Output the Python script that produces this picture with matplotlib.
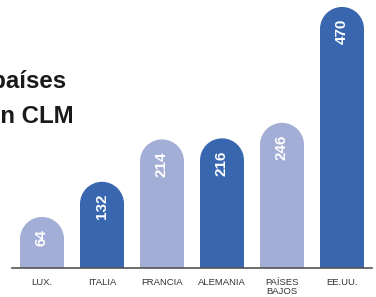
import matplotlib
matplotlib.use("Agg")
import matplotlib.pyplot as plt
from matplotlib.patches import Rectangle, Ellipse

# data
countries = ["LUX.", "ITALIA", "FRANCIA", "ALEMANIA", "PAÍSES\nBAJOS", "EE.UU."]
values = [64, 132, 214, 216, 246, 470]
dark = [False, True, False, True, False, True]

light_col = "#a3aed6"
dark_col = "#3867b0"

plt.rcParams["font.family"] = ["Liberation Sans", "DejaVu Sans"]

fig = plt.figure(figsize=(3.76, 2.97), dpi=100)
# axes: x 12..372 px, baseline at 268 px from top
ax = fig.add_axes([12 / 376, 29 / 297, 360 / 376, 268 / 297])

pad = 34.6      # extra bar length below the value (data units)
r = 42.5        # cap radius in data units (y)
w = 0.733       # bar width

for i, (v, d) in enumerate(zip(values, dark)):
    col = dark_col if d else light_col
    top = v + pad
    ax.add_patch(Rectangle((i - w / 2, 0), w, top - r, facecolor=col, edgecolor="none"))
    ax.add_patch(Ellipse((i, top - r), w, 2 * r, facecolor=col, edgecolor="none"))
    ax.annotate(str(v), (i, top), xytext=(0, -12), textcoords="offset pixels",
                rotation=90, ha="center", va="top", color="white",
                fontsize=11, fontweight="bold")

ax.set_xlim(-0.5, 5.5)
ax.set_ylim(0, 518)
ax.set_xticks(range(len(countries)))
ax.set_xticklabels(countries, fontsize=6.8, color="#333333", linespacing=1.1)
ax.tick_params(axis="x", length=0, pad=7)
ax.set_yticks([])
for s in ["top", "right", "left"]:
    ax.spines[s].set_visible(False)
ax.spines["bottom"].set_color("#555555")
ax.spines["bottom"].set_linewidth(1.2)
ax.patch.set_alpha(0)

# title, cut off at the left edge
fig.text(66 / 376, 1 - 88 / 297, "Inversión de los países", ha="right",
         va="baseline", fontsize=17.3, fontweight="bold", color="#1a1a1a")
fig.text(74 / 376, 1 - 123 / 297, "en CLM", ha="right",
         va="baseline", fontsize=17.3, fontweight="bold", color="#1a1a1a")

fig.savefig("out.png", dpi=100)
